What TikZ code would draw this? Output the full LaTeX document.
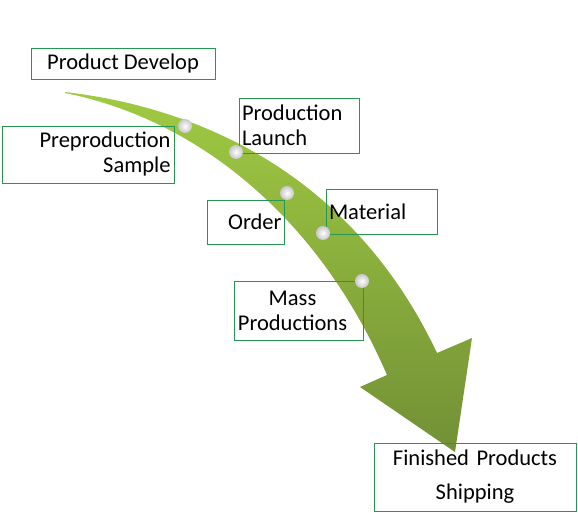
\documentclass[tikz,border=0pt]{standalone}
\usepackage{fontspec}
\setmainfont{Carlito}
\usepackage{tikz}
\definecolor{boxgreen}{RGB}{38,150,80}
\definecolor{armlight}{RGB}{160,202,66}
\definecolor{armdark}{RGB}{114,144,54}
\tikzset{
	stage/.style={draw=boxgreen, line width=0.9pt, inner sep=3pt,
		font=\fontsize{22.5}{25}\selectfont},
	knob/.style={circle, minimum size=14pt, inner sep=0pt,
		inner color=white, outer color=black!22}
}

\begin{document}
\begin{tikzpicture}[x=1pt, y=-1pt]
		%%%%% START %%%%%
		\useasboundingbox (0,0) rectangle (578,513);
		
		% the bent arrow
		\shade[top color=armlight, bottom color=armdark]
			(65,92) .. controls (220,110) and (360,190) .. (437,353)
			-- (472,338) -- (455,452) -- (360,387) -- (387,375)
			.. controls (320,220) and (200,120) .. (65,93) -- cycle;
		
		% the steps
		\node[stage, minimum width=184pt, minimum height=31pt] (develop) at (123,63.5) {Product Develop};
		\node[stage, minimum width=172pt, minimum height=57pt, text width=165pt, align=right] (sample) at (88,154.5) {Preproduction\\Sample};
		\node[stage, minimum width=120pt, minimum height=55pt, text width=114pt, align=left] (launch) at (299,125.5) {Production\\Launch};
		\node[stage, minimum width=76pt, minimum height=44pt, text width=71pt, align=right] (order) at (246,222) {Order};
		\node[stage, minimum width=111pt, minimum height=45pt, text width=105pt, align=left] (material) at (381.5,211.5) {Material};
		\node[stage, minimum width=129pt, minimum height=59pt, text width=121pt, align=center] (mass) at (298.5,310.5) {\hspace*{-12pt}Mass\\\hspace*{-12pt}Productions};
		\node[stage, minimum width=202pt, minimum height=68pt, text width=194pt, align=center,
			font=\fontsize{22.5}{34}\selectfont] (shipping) at (475,477) {Finished Products\\Shipping};
		
		% the knobs on the arrow
		\node[knob] (k1) at (185,126) {};
		\node[knob] (k2) at (236,152) {};
		\node[knob] (k3) at (287,193) {};
		\node[knob] (k4) at (323,233) {};
		\node[knob] (k5) at (362,281) {};
		
		%%%%% END %%%%%
	\end{tikzpicture}
\end{document}
